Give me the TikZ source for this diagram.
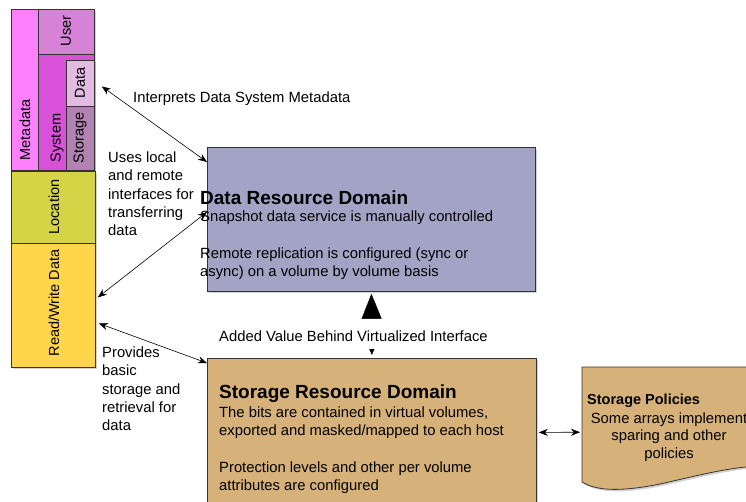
\documentclass[tikz,border=0pt]{standalone}
\usepackage{fontspec}
\setmainfont{Liberation Sans}
\usetikzlibrary{arrows.meta,shadows}
\definecolor{cMeta}{RGB}{255,128,255}
\definecolor{cUser}{RGB}{214,130,214}
\definecolor{cSys}{RGB}{217,80,217}
\definecolor{cData}{RGB}{226,186,226}
\definecolor{cStor}{RGB}{178,130,178}
\definecolor{cLoc}{RGB}{212,212,70}
\definecolor{cRW}{RGB}{255,214,74}
\definecolor{cDRD}{RGB}{163,163,198}
\definecolor{cSRD}{RGB}{214,178,122}
\begin{document}
\begin{tikzpicture}[x=1pt,y=-1pt,
  shd/.style={drop shadow={shadow xshift=2pt,shadow yshift=-2pt,opacity=0.35}},
  cell/.style={draw=black!80,line width=0.8pt,inner sep=0pt,anchor=north west,shd},
  lab/.style={rotate=90,inner sep=0pt,font=\fontsize{14.5}{17}\selectfont},
  txt/.style={inner sep=0pt,align=left,anchor=north west,font=\fontsize{14.8}{18.3}\selectfont},
  head/.style={inner sep=0pt,anchor=base west,font=\fontsize{19}{21}\selectfont\bfseries},
  dbl/.style={{Stealth[length=9pt,width=7pt]}-{Stealth[length=9pt,width=7pt]},line width=0.6pt}]
\useasboundingbox (0,0) rectangle (746,501);
% left stack
\node[cell,fill=cMeta,minimum width=27pt,minimum height=161pt] (meta) at (11,9) {};
\node[cell,fill=cUser,minimum width=56pt,minimum height=45pt] (user) at (38,9) {};
\node[cell,fill=cSys,minimum width=56pt,minimum height=116pt] (sys) at (38,54) {};
\node[cell,fill=cData,minimum width=28pt,minimum height=46pt] (data) at (66,60) {};
\node[cell,fill=cStor,minimum width=28pt,minimum height=64pt] (stor) at (66,106) {};
\node[cell,fill=cLoc,minimum width=84pt,minimum height=72pt] (loc) at (11,171) {};
\node[cell,fill=cRW,minimum width=84pt,minimum height=124pt] (rw) at (11,243) {};
\node[lab] (lmeta) at (25,130) {Metadata};
\node[lab] (luser) at (66,31) {User};
\node[lab] (lsys) at (57,138) {System};
\node[lab] (ldata) at (80,83) {Data};
\node[lab] (lstor) at (80,138) {Storage};
\node[lab] (lloc) at (54,207) {Location};
\node[lab] (lrw) at (54,303) {Read/Write Data};
% domains
\node[cell,fill=cDRD,minimum width=328pt,minimum height=144pt] (drd) at (207,147) {};
\node[cell,fill=cSRD,minimum width=329pt,minimum height=148pt] (srd) at (207,358) {};
\node[head] (drdh) at (200,204) {Data Resource Domain};
\node[txt] (drdt) at (200,210.5) {Snapshot data service is manually controlled\\[18.3pt]Remote replication is configured (sync or\\async) on a volume by volume basis};
\node[head] (srdh) at (219,398) {Storage Resource Domain};
\node[txt] (srdt) at (219,406.5) {The bits are contained in virtual volumes,\\exported and masked/mapped to each host\\[18.3pt]Protection levels and other per volume\\attributes are configured};
% policies
\node[inner sep=0pt,anchor=north west,minimum width=174pt,minimum height=130pt] (pol) at (582,367) {};
\path[draw=black!80,line width=0.8pt,fill=cSRD,shd] (582,367) -- (760,367) -- (760,466)
  .. controls (730,467) and (700,475) .. (660,484)
  .. controls (625,491) and (598,492) .. (582,482) -- cycle;
\node[inner sep=0pt,anchor=base west,font=\fontsize{14.5}{17}\selectfont\bfseries] (polh) at (587,404) {Storage Policies};
\node[inner sep=0pt,anchor=north,align=center,font=\fontsize{14.8}{17.5}\selectfont] (polt) at (669,412.5) {Some arrays implement\\sparing and other\\policies};
% side texts
\node[txt] (t1) at (108,151.5) {Uses local\\and remote\\interfaces for\\transferring\\data};
\node[txt] (t2) at (102,346.5) {Provides\\basic\\storage and\\retrieval for\\data};
\node[inner sep=0pt,anchor=base west,font=\fontsize{14.8}{17}\selectfont] (t3) at (133,102) {Interprets Data System Metadata};
% connectors
\draw[dbl] ([xshift=7pt,yshift=-3pt]data.east) -- ([yshift=-15pt]drd.north west);
\draw[dbl] ([xshift=2pt,yshift=8pt]rw.east) -- ([yshift=-65pt]drd.north west);
\draw[dbl] ([xshift=3pt,yshift=-18pt]rw.east) -- ([yshift=-5pt]srd.north west);
\draw[dbl] ([xshift=2pt]srd.east) -- ([xshift=-2pt]pol.west);
\draw[white,line width=0.4pt,shorten <=2pt,shorten >=3pt,{Triangle[length=25pt,width=20pt,black]}-{Triangle[length=6pt,width=5pt,black]}] (drd.south) -- (srd.north);
\node[inner sep=0pt,anchor=base west,font=\fontsize{14.8}{17}\selectfont] (t4) at (219,341) {Added Value Behind Virtualized Interface};
\end{tikzpicture}
\end{document}
